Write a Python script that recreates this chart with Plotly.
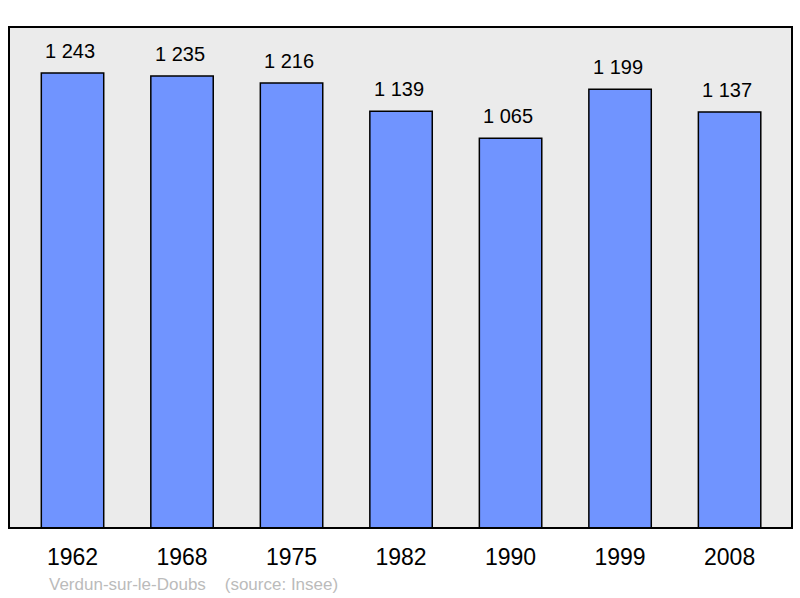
import plotly.graph_objects as go

years = ["1962", "1968", "1975", "1982", "1990", "1999", "2008"]
population = [1243, 1235, 1216, 1139, 1065, 1199, 1137]
labels = ["1 243", "1 235", "1 216", "1 139", "1 065", "1 199", "1 137"]

fig = go.Figure()
fig.add_trace(go.Bar(
    x=years, y=population, width=0.57,
    marker=dict(color="#7094FF", line=dict(color="black", width=1.5)),
    hoverinfo="skip",
))
for i, (v, t) in enumerate(zip(population, labels)):
    fig.add_annotation(x=i - 0.02, y=v, text=t, showarrow=False, yanchor="bottom",
                       yshift=9, font=dict(size=20, color="black"))

fig.add_shape(type="rect", xref="paper", yref="paper", x0=0, x1=1, y0=0, y1=1,
              line=dict(color="black", width=2), layer="above")
fig.add_annotation(xref="paper", yref="paper", x=0.048, y=-0.113, xanchor="left",
                   yanchor="middle", showarrow=False,
                   text="Verdun-sur-le-Doubs&nbsp;&nbsp;&nbsp;&nbsp;(source: Insee)",
                   font=dict(size=17, color="#BBBBBB"))

fig.update_layout(
    width=800, height=598,
    margin=dict(l=9, r=8, t=27, b=70),
    paper_bgcolor="white", plot_bgcolor="#EBEBEB",
    font=dict(family="Liberation Sans, Arial, sans-serif"),
    showlegend=False,
    xaxis=dict(type="category", range=[-0.58, 6.57], showgrid=False, zeroline=False,
               ticks="outside", ticklen=8, tickcolor="rgba(0,0,0,0)",
               tickfont=dict(size=23, color="black")),
    yaxis=dict(range=[0, 1369], showgrid=False, zeroline=False, showticklabels=False),
)
fig.write_html("out.html", post_script="document.body.style.margin='0';",
               config={"displayModeBar": False})
